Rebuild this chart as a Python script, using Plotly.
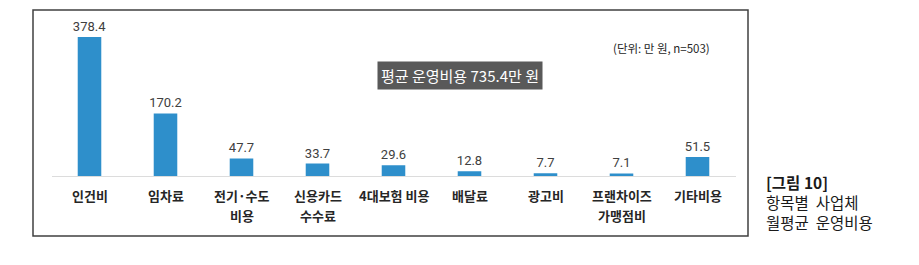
import plotly.graph_objects as go

categories = ["인건비", "임차료", "전기·수도<br>비용", "신용카드<br>수수료", "4대보험 비용",
              "배달료", "광고비", "프랜차이즈<br>가맹점비", "기타비용"]
values = [378.4, 170.2, 47.7, 33.7, 29.6, 12.8, 7.7, 7.1, 51.5]
value_labels = ["378.4", "170.2", "47.7", "33.7", "29.6", "12.8", "7.7", "7.1", "51.5"]

W, H = 919, 265
def px(x):
    return x / W
def py(y):
    return (H - y) / H

KR = "Noto Sans CJK KR"
NUM = "Roboto, Noto Sans CJK KR"

fig = go.Figure()
fig.add_trace(go.Bar(
    x=categories, y=values,
    marker=dict(color="#2E8FCB", line=dict(width=0)),
    text=value_labels, textposition="outside", cliponaxis=False,
    constraintext="none",
    textfont=dict(family=NUM, size=13, color="#404040"),
    width=0.31,
))

annotations = [
    dict(xref="paper", yref="paper", x=px(460), y=py(75), text="평균 운영비용 735.4만 원",
         showarrow=False, font=dict(family=KR, size=15, color="white"),
         bgcolor="#595959", borderpad=3, xanchor="center", yanchor="middle"),
    dict(xref="paper", yref="paper", x=px(712), y=py(48), text="(단위: 만 원, n=503)",
         showarrow=False, font=dict(family=KR, size=11.5, color="#262626"),
         xanchor="right", yanchor="middle"),
    dict(xref="paper", yref="paper", x=px(764), y=py(169),
         text="<b>[그림 10]</b><br>항목별  사업체<br>월평균  운영비용",
         showarrow=False, font=dict(family=KR, size=15.5, color="#1a1a1a"),
         xanchor="left", yanchor="top", align="left"),
]
for cat in categories:
    for i, line in enumerate(cat.split("<br>")):
        annotations.append(dict(
            xref="x", yref="paper", x=cat, y=py(195 + 20 * i), text="<b>%s</b>" % line,
            showarrow=False, font=dict(family=KR, size=13, color="#262626"),
            xanchor="center", yanchor="middle"))

fig.update_layout(
    width=W, height=H,
    margin=dict(l=0, r=0, t=0, b=0),
    paper_bgcolor="white", plot_bgcolor="white",
    showlegend=False,
    xaxis=dict(domain=[px(51.5), px(735.5)], showline=True, linecolor="#dcdcdc", linewidth=1,
               ticks="", showticklabels=False, showgrid=False, zeroline=False),
    yaxis=dict(domain=[py(176), py(10)], range=[0, 452], visible=False, showgrid=False, zeroline=False),
    shapes=[dict(type="rect", xref="paper", yref="paper",
                 x0=px(33), x1=px(748), y0=py(236), y1=py(10),
                 line=dict(color="#404040", width=1.5), fillcolor="rgba(0,0,0,0)")],
    annotations=annotations,
)

fig.write_html("out.html")
